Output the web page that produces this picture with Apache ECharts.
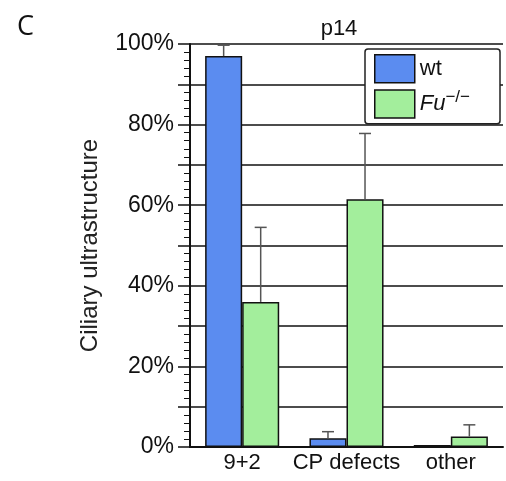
<!DOCTYPE html>
<html>
<head>
    <meta charset="utf-8">
    <title>Ciliary ultrastructure p14</title>
    <script src="https://cdn.jsdelivr.net/npm/echarts@6/dist/echarts.min.js"></script>
    <style>
      body { margin: 0; background: #fff; }
      #chart { width: 506px; height: 481px; }
    </style>
</head>
<body>
    <div id="chart"></div>
    <script type="text/javascript">
    // data
    var categories = ['9+2', 'CP defects', 'other'];
    var wtValues = [97, 2.2, 0.5];
    var wtErr = [2.7, 1.6, 0];
    var fuValues = [36, 61.5, 2.6];
    var fuErr = [18.5, 16.3, 2.9];
    var yTicks = [0, 20, 40, 60, 80, 100];

    var BLUE = '#5b8cf0';
    var GREEN = '#a3ee9c';
    var BAR_W = 0.355;

    var chart = echarts.init(document.getElementById('chart'));

    // upper-only error bars, shifted onto the wt / Fu bar
    function errorBars(values, errs, side) {
      return {
        type: 'custom',
        z: 5,
        silent: true,
        data: values.map(function (v, i) { return [i, v, v + errs[i]]; }),
        renderItem: function (params, api) {
          var band = api.size([1, 0])[0];
          var dx = side * band * BAR_W / 2;
          var lo = api.coord([api.value(0), api.value(1)]);
          var hi = api.coord([api.value(0), api.value(2)]);
          if (api.value(2) - api.value(1) <= 0) return;
          var x = lo[0] + dx, cap = 6;
          var st = { stroke: '#555', lineWidth: 1.5 };
          return {
            type: 'group',
            children: [
              { type: 'line', shape: { x1: x, y1: lo[1], x2: x, y2: hi[1] }, style: st },
              { type: 'line', shape: { x1: x - cap, y1: hi[1], x2: x + cap, y2: hi[1] }, style: st }
            ]
          };
        }
      };
    }

    var option = {
      animation: false,
      backgroundColor: '#fff',
      textStyle: { fontFamily: 'Liberation Sans' },
      title: [
        { text: 'C', left: 12, top: 9, textStyle: { fontFamily: 'Open Sans', fontWeight: 'normal', fontSize: 27, color: '#111' } },
        { text: 'p14', left: 334, top: 13, textAlign: 'center', textStyle: { fontWeight: 'normal', fontSize: 22, color: '#111' } }
      ],
      legend: {
        orient: 'vertical',
        left: 365,
        top: 49,
        padding: [5, 30, 5, 9],
        itemWidth: 40,
        itemHeight: 28,
        itemGap: 5,
        itemTextGap: 16,
        backgroundColor: '#fff',
        borderColor: '#222',
        borderWidth: 1.5,
        borderRadius: 3,
        icon: 'rect',
        itemStyle: { borderColor: '#111', borderWidth: 1.5 },
        textStyle: {
          fontSize: 22, color: '#111',
          rich: {
            i: { fontStyle: 'italic', fontSize: 22, color: '#111' },
            s: { fontSize: 17, color: '#111', verticalAlign: 'top', padding: [0, 0, 14, 0] }
          }
        },
        formatter: function (n) { return n === 'wt' ? 'wt' : '{i|Fu}{s|\u2212/\u2212}'; },
        data: ['wt', 'Fu']
      },
      grid: { left: 190, right: 3, top: 44, bottom: 34 },
      xAxis: {
        type: 'category',
        data: categories,
        axisLine: { lineStyle: { color: '#111', width: 2 } },
        axisTick: { show: false },
        axisLabel: { color: '#111', fontSize: 22, margin: 5, interval: 0 }
      },
      yAxis: {
        type: 'value',
        min: 0,
        max: 100,
        interval: 10,
        name: 'Ciliary ultrastructure',
        nameLocation: 'middle',
        nameGap: 88,
        nameTextStyle: { fontSize: 24, color: '#222' },
        axisLine: { show: true, lineStyle: { color: '#111', width: 2 } },
        axisTick: { show: true, length: 12, lineStyle: { color: '#111', width: 1.5 } },
        minorTick: { show: true, splitNumber: 5, length: 6, lineStyle: { color: '#111', width: 1 } },
        splitLine: { show: true, lineStyle: { color: '#111', width: 1.5 } },
        axisLabel: {
          color: '#111', fontSize: 23, margin: 16,
          formatter: function (v) { return yTicks.indexOf(v) >= 0 ? v + '%' : ''; }
        }
      },
      series: [
        { name: 'wt', type: 'bar', data: wtValues, barWidth: (BAR_W * 100) + '%', barGap: '0%',
          itemStyle: { color: BLUE, borderColor: '#111', borderWidth: 1.5 } },
        { name: 'Fu', type: 'bar', data: fuValues, barWidth: (BAR_W * 100) + '%', barGap: '0%',
          itemStyle: { color: GREEN, borderColor: '#111', borderWidth: 1.5 } },
        errorBars(wtValues, wtErr, -1),
        errorBars(fuValues, fuErr, 1)
      ]
    };

    chart.setOption(option);
    </script>
</body>
</html>
